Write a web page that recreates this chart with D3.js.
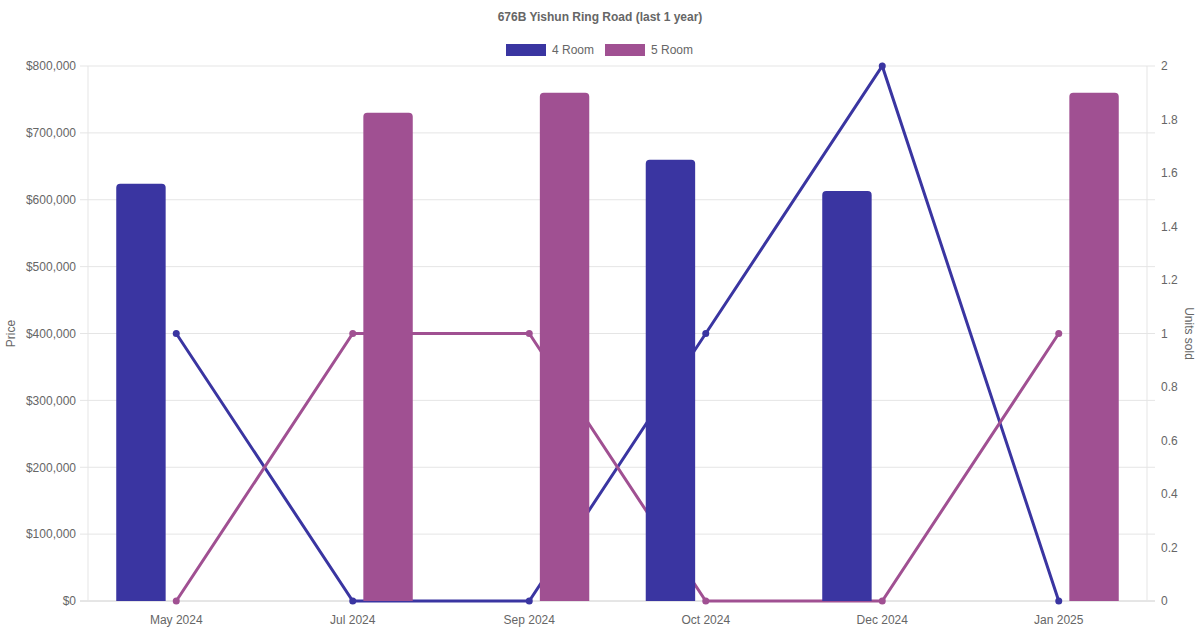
<html>
<head>
  <meta charset="utf-8">
  <title>676B Yishun Ring Road</title>
  <script src="https://d3js.org/d3.v7.min.js"></script>
  <style>
    body { margin: 0; background: #fff; font-family: "Liberation Sans", Arial, sans-serif; }
    text { fill: #666; }
  </style>
</head>
<body>
  <svg id="chart" width="1200" height="630"></svg>
  <script>
    // data
    var months = ["May 2024", "Jul 2024", "Sep 2024", "Oct 2024", "Dec 2024", "Jan 2025"];
    var seriesNames = ["4 Room", "5 Room"];
    var colors = ["#3a35a1", "#a05092"];
    var price4 = [624000, null, null, 660000, 613000, null];
    var price5 = [null, 730000, 760000, null, null, 760000];
    var units4 = [1, 0, 0, 1, 2, 0];
    var units5 = [0, 1, 1, 0, 0, 1];
    var priceTicks = [0, 100000, 200000, 300000, 400000, 500000, 600000, 700000, 800000];
    var unitTicks = [0, 0.2, 0.4, 0.6, 0.8, 1, 1.2, 1.4, 1.6, 1.8, 2];

    var margin = { top: 66, right: 53, bottom: 29, left: 88 },
      width = 1200 - margin.left - margin.right,
      height = 630 - margin.top - margin.bottom;

    var svg = d3.select("#chart");
    var chart = svg.append("g")
      .attr("transform", "translate(" + margin.left + "," + margin.top + ")");

    var x = d3.scaleBand().domain(months).range([0, width]);
    var xSub = d3.scaleBand().domain(seriesNames).range([x.bandwidth() * 0.1, x.bandwidth() * 0.9]).paddingInner(0.3).paddingOuter(0.15);
    var yPrice = d3.scaleLinear().domain([0, 800000]).range([height, 0]);
    var yUnits = d3.scaleLinear().domain([0, 2]).range([height, 0]);

    // grid
    chart.append("g")
      .selectAll("line")
      .data(priceTicks)
      .enter()
      .append("line")
      .attr("x1", -8).attr("x2", width + 8)
      .attr("y1", d => yPrice(d)).attr("y2", d => yPrice(d))
      .attr("stroke", d => d === 0 ? "#ccc" : "#e5e5e5");

    chart.append("line").attr("x1", 0).attr("x2", 0).attr("y1", 0).attr("y2", height).attr("stroke", "#e5e5e5");
    chart.append("line").attr("x1", width).attr("x2", width).attr("y1", 0).attr("y2", height).attr("stroke", "#e5e5e5");

    // axes
    var fmt = d => "$" + d3.format(",")(d);
    var left = chart.append("g").call(d3.axisLeft(yPrice).tickValues(priceTicks).tickFormat(fmt).tickSize(0).tickPadding(12));
    var right = chart.append("g").attr("transform", "translate(" + width + ",0)")
      .call(d3.axisRight(yUnits).tickValues(unitTicks).tickFormat(d3.format("~g")).tickSize(0).tickPadding(14));
    var bottom = chart.append("g").attr("transform", "translate(0," + height + ")")
      .call(d3.axisBottom(x).tickSize(0).tickPadding(14));
    [left, right, bottom].forEach(function (g) {
      g.select(".domain").remove();
      g.selectAll("text").style("font-size", "12px").style("fill", "#666").style("font-family", "Liberation Sans, Arial, sans-serif");
    });

    // lines (behind bars)
    var unitSeries = [units4, units5];
    unitSeries.forEach(function (vals, i) {
      var line = d3.line()
        .x((d, j) => x(months[j]) + x.bandwidth() / 2)
        .y(d => yUnits(d));
      chart.append("path")
        .datum(vals)
        .attr("d", line)
        .attr("fill", "none")
        .attr("stroke", colors[i])
        .attr("stroke-width", 3);
      chart.append("g").selectAll("circle")
        .data(vals)
        .enter()
        .append("circle")
        .attr("cx", (d, j) => x(months[j]) + x.bandwidth() / 2)
        .attr("cy", d => yUnits(d))
        .attr("r", 3.5)
        .attr("fill", colors[i]);
    });

    // bars with rounded top corners
    var priceSeries = [price4, price5];
    priceSeries.forEach(function (vals, i) {
      var data = vals.map((v, j) => ({ month: months[j], value: v })).filter(d => d.value != null);
      chart.append("g").selectAll("path")
        .data(data)
        .enter()
        .append("path")
        .attr("fill", colors[i])
        .attr("d", function (d) {
          var x0 = x(d.month) + xSub(seriesNames[i]), w = xSub.bandwidth();
          var y0 = yPrice(d.value), y1 = yPrice(0), r = 4;
          return "M" + x0 + "," + y1 + "V" + (y0 + r) + "Q" + x0 + "," + y0 + " " + (x0 + r) + "," + y0 +
            "H" + (x0 + w - r) + "Q" + (x0 + w) + "," + y0 + " " + (x0 + w) + "," + (y0 + r) + "V" + y1 + "Z";
        });
    });

    // axis titles
    svg.append("text")
      .attr("transform", "translate(15," + (margin.top + height / 2) + ") rotate(-90)")
      .attr("text-anchor", "middle")
      .style("font-size", "12px")
      .text("Price");
    svg.append("text")
      .attr("transform", "translate(1185," + (margin.top + height / 2) + ") rotate(90)")
      .attr("text-anchor", "middle")
      .style("font-size", "12px")
      .text("Units sold");

    // title
    svg.append("text")
      .attr("x", 600).attr("y", 21)
      .attr("text-anchor", "middle")
      .style("font-size", "12px")
      .style("font-weight", "bold")
      .text("676B Yishun Ring Road (last 1 year)");

    // legend
    var legendX = [506, 605];
    seriesNames.forEach(function (name, i) {
      svg.append("rect")
        .attr("x", legendX[i]).attr("y", 44)
        .attr("width", 40).attr("height", 12)
        .attr("fill", colors[i]);
      svg.append("text")
        .attr("x", legendX[i] + 46).attr("y", 54)
        .style("font-size", "12px")
        .text(name);
    });
  </script>
</body>
</html>
